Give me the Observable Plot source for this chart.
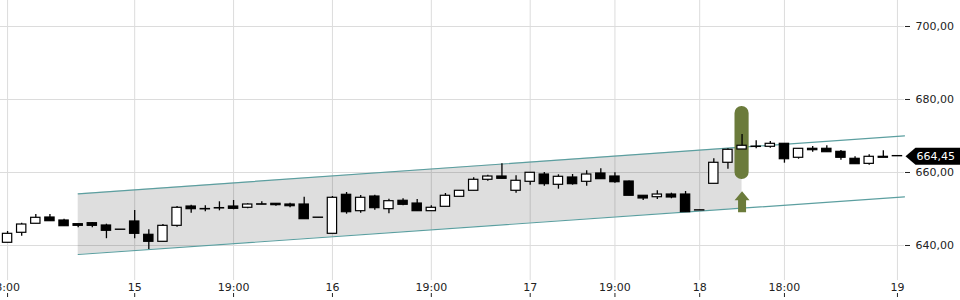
<!DOCTYPE html>
<html>
<head>
<meta charset="utf-8">
<script src="https://cdn.jsdelivr.net/npm/d3@7"></script>
<script src="https://cdn.jsdelivr.net/npm/@observablehq/plot@0.6"></script>
<style>
  body { margin: 0; background: #fff; }
  #chart svg { display: block; }
</style>
</head>
<body>
<div id="chart"></div>
<script>
// ---- data ----
const openVals  = [640.74,643.48,645.95,647.67,646.85,645.84,646.11,645.48,644.35,646.58,
                   642.93,641.01,645.39,650.68,650.00,650.25,650.68,650.33,651.28,651.42,
                   651.23,651.23,647.64,643.20,653.89,649.40,653.42,649.95,652.25,651.50,
                   649.40,650.60,653.34,654.99,658.00,658.90,654.99,657.45,659.45,656.63,
                   658.63,657.45,659.73,658.90,657.53,653.62,653.23,653.97,653.97,649.64,
                   656.90,662.66,666.30,667.09,667.04,667.86,664.03,666.49,666.49,665.66,
                   663.75,662.37,664.30,664.50];
const highVals  = [643.84,646.11,648.49,648.49,647.21,645.84,646.30,645.84,644.35,649.59,
                   644.30,645.75,650.68,651.05,650.88,651.97,652.33,651.42,651.97,651.42,
                   651.60,653.23,647.64,653.42,654.52,653.70,653.79,652.69,652.80,652.60,
                   650.88,654.25,654.99,658.55,659.26,662.40,659.10,659.92,660.00,659.37,
                   659.45,660.47,661.01,659.92,657.70,653.62,654.99,654.34,654.79,649.64,
                   663.75,666.49,670.41,668.68,668.49,667.86,666.49,667.12,667.32,666.03,
                   664.30,664.85,665.94,664.50];
const lowVals   = [640.74,642.55,645.95,646.66,645.29,644.85,644.85,641.86,644.30,641.84,
                   638.90,641.01,645.00,648.85,649.23,649.50,649.78,650.05,651.18,650.77,
                   650.33,647.21,647.59,643.20,648.58,648.85,649.67,648.68,650.88,649.40,
                   649.40,650.60,653.34,654.99,657.62,658.27,654.34,656.52,656.25,655.42,
                   656.52,656.25,658.17,657.07,653.62,652.33,652.60,652.80,649.12,649.59,
                   656.90,660.90,666.30,666.49,666.67,662.55,663.64,665.56,665.56,663.37,
                   662.28,662.00,664.03,664.45];
const closeVals = [643.20,645.75,647.59,646.66,645.29,645.39,645.39,644.03,644.30,643.20,
                   641.01,645.39,650.33,649.95,649.90,650.15,650.05,651.23,651.18,651.05,
                   650.77,647.21,647.59,653.07,649.12,653.07,650.23,652.14,651.15,649.40,
                   650.33,653.62,654.99,658.00,658.90,658.27,657.73,659.92,656.80,658.82,
                   656.80,659.45,658.17,657.34,653.62,652.88,653.97,653.15,649.12,649.59,
                   662.66,666.22,667.32,667.00,667.86,663.64,666.49,666.11,665.56,664.03,
                   662.28,664.30,664.03,664.45];

const tickIndex  = [0, 9, 16, 23, 30, 37, 43, 49, 55, 63];
const tickLabels = ["8:00", "15", "19:00", "16", "19:00", "17", "19:00", "18", "18:00", "19"];
const yTicks     = [640, 660, 680, 700];

const channelX     = [5, 52, 63.5];
const channelUpper = [654.16, 666.93, 670.05];
const channelLower = [637.53, 650.22, 653.34];
const shadedUntil  = 52;

const highlightIndex = 52;
const highlightLow   = 658.1;
const highlightHigh  = 678.1;
const arrowBase      = 649.1;
const lastPrice      = 664.45;

// ---- build tables ----
const candles = openVals.map((o, i) => ({i, open: o, high: highVals[i], low: lowVals[i], close: closeVals[i]}));
const channel = channelX.map((x, k) => ({x, upper: channelUpper[k], lower: channelLower[k]}));
const labelOf = new Map(tickIndex.map((t, k) => [t, tickLabels[k]]));
const fmt = v => d3.format(".2f")(v).replace(".", ",");

const olive = "#6b7b3b";
const teal = "#5c9fa0";

const blockArrow = {
  draw(ctx, l) {
    const h = 9, w = 7.5, s = 4;
    ctx.moveTo(-s, 0); ctx.lineTo(-s, -l + h); ctx.lineTo(-w, -l + h);
    ctx.lineTo(0, -l); ctx.lineTo(w, -l + h); ctx.lineTo(s, -l + h);
    ctx.lineTo(s, 0); ctx.closePath();
  }
};
const priceTag = {
  draw(ctx) {
    ctx.moveTo(1, 0); ctx.lineTo(11, -8.5); ctx.lineTo(62, -8.5);
    ctx.lineTo(62, 8.5); ctx.lineTo(11, 8.5); ctx.closePath();
  }
};

const chart = Plot.plot({
  width: 960,
  height: 300,
  marginLeft: 0,
  marginRight: 56,
  marginTop: 0,
  marginBottom: 20,
  style: {fontFamily: "DejaVu Sans", fontSize: "11px", color: "#222", background: "#fff"},
  x: {domain: [-0.5, 63.5], axis: null, label: null},
  y: {domain: [630.41, 707.12], axis: null, label: null},
  marks: [
    Plot.gridY(yTicks, {stroke: "#dcdcdc", strokeOpacity: 1}),
    Plot.gridX(tickIndex, {stroke: "#dcdcdc", strokeOpacity: 1}),
    Plot.areaY(channel.filter(d => d.x <= shadedUntil), {x: "x", y1: "lower", y2: "upper", fill: "#000", fillOpacity: 0.13}),
    Plot.line(channel, {x: "x", y: "upper", stroke: teal, strokeWidth: 1.2}),
    Plot.line(channel, {x: "x", y: "lower", stroke: teal, strokeWidth: 1.2}),
    Plot.rect([{i: highlightIndex, lo: highlightLow, hi: highlightHigh}], {
      x1: d => d.i - 0.5, x2: d => d.i + 0.5, y1: "lo", y2: "hi", rx: 7, fill: olive
    }),
    Plot.ruleX(candles, {x: "i", y1: "low", y2: "high", stroke: "#000", strokeWidth: 1.3}),
    Plot.rect(candles.filter(d => d.close >= d.open), {
      x1: d => d.i - 0.33, x2: d => d.i + 0.33, y1: "open", y2: "close", fill: "#fff", stroke: "#000", strokeWidth: 1.2
    }),
    Plot.rect(candles.filter(d => d.close < d.open), {
      x1: d => d.i - 0.33, x2: d => d.i + 0.33, y1: "open", y2: "close", fill: "#000", stroke: "#000", strokeWidth: 1.2
    }),
    Plot.vector([{i: highlightIndex, base: arrowBase}], {
      x: "i", y: "base", length: 21, anchor: "start", shape: blockArrow, fill: olive, stroke: "none"
    }),
    Plot.axisY(yTicks, {anchor: "right", tickSize: 5, tickPadding: 6, tickFormat: fmt, label: null, stroke: "#222", fill: "#222"}),
    Plot.axisX(tickIndex, {anchor: "bottom", tickSize: 0, tickPadding: 3, tickFormat: d => labelOf.get(d), label: null, fill: "#222"}),
    Plot.axisX(tickIndex, {anchor: "bottom", tickSize: 4, dy: 13, fill: "none", label: null, stroke: "#222"}),
    Plot.vector([{price: lastPrice}], {
      x: () => 63.5, y: "price", length: 1, anchor: "start", shape: priceTag, fill: "#000", stroke: "none"
    }),
    Plot.text([{price: lastPrice}], {
      x: () => 63.5, y: "price", text: d => fmt(d.price), dx: 12, textAnchor: "start", fill: "#fff"
    })
  ]
});
document.getElementById("chart").append(chart);
</script>
</body>
</html>
